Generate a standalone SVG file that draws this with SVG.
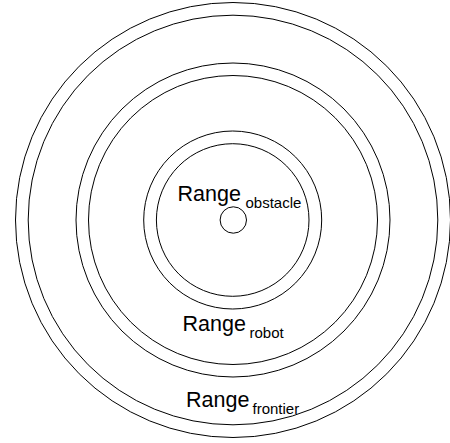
<svg xmlns="http://www.w3.org/2000/svg" width="450" height="443" viewBox="0 0 450 443">
<style>
.ring{fill:none;stroke:#000;stroke-width:1}
.lbl{font-family:"Liberation Sans",Arial,sans-serif;fill:#000}
.main{font-size:21.5px}
.sub{font-size:15px}
</style>
<rect width="450" height="443" fill="#fff"/>
<g id="rings">
<circle id="frontier-outer" class="ring" cx="233" cy="220" r="217.5"/>
<circle id="frontier-inner" class="ring" cx="233" cy="220" r="204.8"/>
<circle id="robot-outer" class="ring" cx="233" cy="220" r="157"/>
<circle id="robot-inner" class="ring" cx="233" cy="220" r="144.5"/>
<circle id="obstacle-outer" class="ring" cx="232.7" cy="220" r="89"/>
<circle id="obstacle-inner" class="ring" cx="232.7" cy="220" r="76.3"/>
<circle id="robot" class="ring" cx="233.3" cy="220" r="13.2"/>
</g>
<g id="label-obstacle">
<text class="lbl main" x="177.5" y="201">Range</text>
<text class="lbl sub" x="245.5" y="208">obstacle</text>
</g>
<g id="label-robot">
<text class="lbl main" x="182.5" y="331">Range</text>
<text class="lbl sub" x="249.5" y="338.3">robot</text>
</g>
<g id="label-frontier">
<text class="lbl main" x="186" y="407">Range</text>
<text class="lbl sub" x="252.5" y="414">frontier</text>
</g>
</svg>
